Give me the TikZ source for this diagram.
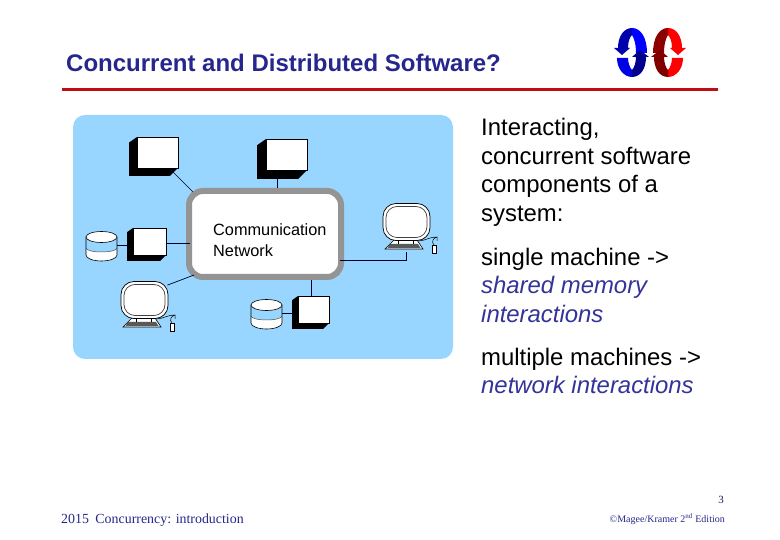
\documentclass[tikz,border=0pt]{standalone}
\usepackage{fontspec}
\setmainfont{Liberation Sans}
\newfontfamily\serifface{Liberation Serif}
\definecolor{panelblue}{RGB}{153,214,255}
\definecolor{titleblue}{RGB}{38,38,140}
\definecolor{slateblue}{RGB}{51,51,153}
\definecolor{rulered}{RGB}{192,12,20}
\tikzset{
  panel/.style={fill=panelblue, rounded corners=12pt},
  netbox/.style={draw=black!42, fill=white, line width=6pt, rounded corners=14pt,
    minimum width=152pt, minimum height=86pt, inner sep=0pt},
  termbox/.style={draw=black, fill=white, line width=0.4pt, inner sep=0pt},
  monitor/.style={draw=black, fill=white, line width=0.7pt, rounded corners=13pt,
    minimum width=47pt, minimum height=37pt, inner sep=0pt},
  screen/.style={draw=black!75, fill=white, line width=0.7pt, rounded corners=11pt,
    minimum width=41pt, minimum height=31pt, inner sep=0pt},
  wire/.style={draw=black!85!blue, line width=0.7pt},
  bodytext/.style={anchor=north west, align=left, inner sep=0pt,
    font=\fontsize{23.9}{28.7}\selectfont}
}
\newcommand{\loopicon}[4]{%
  \fill[#1] (632,28) .. controls (624,28) and (618,36) .. (618,48) -- (614,48) -- (622,55) -- (630,48) -- (628,48)
    .. controls (628,41) and (630,37) .. (632,35) -- cycle;
  \fill[#2] (632,28) .. controls (641,28) and (647,38) .. (647,53) -- (636,53)
    .. controls (636,44) and (634,38) .. (632,35) -- cycle;
  \fill[#3] (617,58) .. controls (617,69) and (624,77) .. (632,77) -- (632,70)
    .. controls (630,68) and (628,63) .. (628,58) -- cycle;
  \fill[#4] (632,77) .. controls (641,77) and (646,68) .. (646,57) -- (649,57) -- (640,50) -- (632,57) -- (636,57)
    .. controls (636,63) and (634,68) .. (632,70) -- cycle;
}
\begin{document}
\begin{tikzpicture}[x=1pt, y=-1pt]
  \useasboundingbox (0,0) rectangle (780,540);
  % heading
  \node[anchor=base west, inner sep=0pt, text=titleblue, font=\fontsize{24}{28}\selectfont\bfseries] (title) at (66,72) {Concurrent and Distributed Software?};
  \fill[rulered] (62,88) rectangle (718,91.5);
  \loopicon{blue!68!black}{blue}{blue!90!black}{blue!55!black}
  \begin{scope}[xshift=1300pt, xscale=-1]
    \loopicon{red}{red!55!black}{red}{red!50!black}
  \end{scope}
  % network panel
  \fill[panel] (73,115) rectangle (453,359);
  \node[netbox] (net) at (265,234) {};
  \node[anchor=west, inner sep=0pt, align=left, font=\fontsize{16.3}{20.5}\selectfont] (netlabel) at (213,240) {Communication\\Network};
  \foreach \nm/\px/\py/\w/\h/\d in {boxa/137/137/41/31/8, boxb/266/139/41/31/9, boxc/133/228/33/27/6, boxd/298/296/31/27/6} {
    \fill[black] (\px,\py) -- (\px-\d,\py+0.7*\d) -- (\px-\d,\py+\h+\d) -- (\px+\w-\d,\py+\h+\d) -- (\px+\w,\py+\h) -- cycle;
    \node[termbox, minimum width=\w pt, minimum height=\h pt] (\nm) at (\px+0.5*\w,\py+0.5*\h) {};
  }
  % disks
  \foreach \nm/\px/\py in {diska/86/231, diskb/251/299} {
    \fill[white] (\px,\py+6) -- (\px,\py+24) arc[start angle=180, end angle=360, x radius=15.5, y radius=-6] -- (\px+31,\py+6) -- cycle;
    \fill[panelblue] (\px,\py+6) -- (\px,\py+17) arc[start angle=180, end angle=360, x radius=15.5, y radius=-4] -- (\px+31,\py+6) -- cycle;
    \draw[line width=0.6pt] (\px,\py+6) -- (\px,\py+24) arc[start angle=180, end angle=360, x radius=15.5, y radius=-6] -- (\px+31,\py+6);
    \draw[line width=0.5pt, black!70] (\px,\py+17) arc[start angle=180, end angle=360, x radius=15.5, y radius=-4];
    \draw[line width=0.6pt, fill=white] (\px+15.5,\py+6) ellipse[x radius=15.5, y radius=5.5];
    \coordinate (\nm) at (\px+31,\py+14.5);
  }
  % workstations
  \foreach \nm/\px/\py in {wsa/121/282, wsb/383/204} {
    \begin{scope}[shift={(\px,\py)}]
      \draw[line width=0.6pt, fill=white] (11,36) -- (2,45) -- (40,45) -- (34,36) -- cycle;
      \fill[black!65] (7,40) -- (4.5,44) -- (37.5,44) -- (35,40) -- cycle;
      \draw[line width=0.6pt] (15,36) -- (15,40) (30,36) -- (30,40);
      \draw[line width=0.5pt] (35,37) .. controls (42,37) and (46,33) .. (54,33) -- (54,37) (54,33) .. controls (50,34) and (48,38) .. (51,41);
      \draw[line width=0.5pt, fill=white] (49,41) rectangle (53,49);
      \node[monitor] (\nm) at (23.5,18) {};
      \node[screen] (\nm scr) at (23.5,18) {};
    \end{scope}
  }
  % links
  \draw[wire] ([shift={(-7,2)}]boxa.south east) -- (193,192);
  \draw[wire] ([shift={(-9,0)}]boxb.south) -- ([shift={(-9,0)}]boxb.south |- net.north);
  \draw[wire] (boxc.east) ++(0,2) -- ++(24,0);
  \draw[wire] (diska) -- (diska -| boxc.west);
  \draw[wire] (wsa.north east) ++(-1,4) -- (194,275);
  \draw[wire] ([shift={(-2,0)}]boxd.north) -- ([shift={(-2,0)}]boxd.north |- net.south);
  \draw[wire] (diskb) -- (diskb -| boxd.west);
  \draw[wire] (340,260) -| ([yshift=-11pt]wsb.south);
  % text on the right
  \node[bodytext] (intro) at (481,118) {Interacting,\\concurrent software\\components of a\\system:};
  \node[bodytext] (single) at (481,247.5) {single machine ->\\\textcolor{slateblue}{\itshape shared memory}\\\textcolor{slateblue}{\itshape interactions}};
  \node[bodytext] (multi) at (481,347.5) {multiple machines ->\\\textcolor{slateblue}{\itshape network interactions}};
  % footer
  \node[anchor=base west, inner sep=0pt, text=titleblue, font=\serifface\fontsize{13.9}{16}\selectfont] (course) at (61,523) {2015\hspace{3pt} Concurrency: introduction};
  \node[anchor=base east, inner sep=0pt, text=titleblue!70!black, font=\serifface\fontsize{11}{13}\selectfont] (page) at (724,503) {3};
  \node[anchor=base east, inner sep=0pt, text=titleblue, font=\serifface\fontsize{10}{12}\selectfont] (edition) at (725,522) {©Magee/Kramer 2\textsuperscript{nd} Edition};
\end{tikzpicture}
\end{document}
